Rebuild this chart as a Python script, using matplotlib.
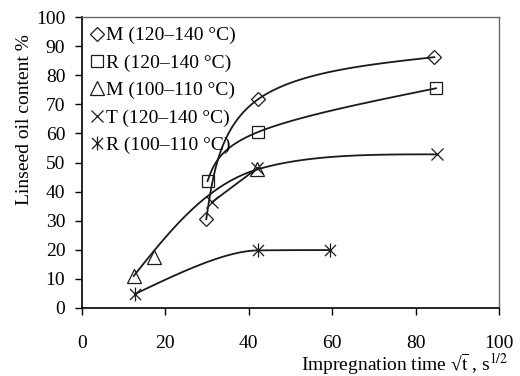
import numpy as np
import matplotlib
matplotlib.use('Agg')
import matplotlib.pyplot as plt
from matplotlib.lines import Line2D
from matplotlib.path import Path

plt.rcParams['font.family'] = ['Liberation Serif', 'DejaVu Serif']
plt.rcParams['mathtext.fontset'] = 'stix'

# values
m_hi_x = [29.8, 42.2, 84.5]
m_hi_y = [30.5, 71.7, 86.2]
r_hi_x = [30.1, 42.1, 84.9]
r_hi_y = [43.6, 60.4, 75.5]
m_lo_x = [12.4, 17.3, 42.0]
m_lo_y = [11.0, 17.4, 47.6]
t_hi_x = [31.1, 42.0, 85.1]
t_hi_y = [36.3, 48.0, 52.8]
r_lo_x = [12.7, 42.3, 59.5]
r_lo_y = [4.8, 19.8, 19.9]

labels = ['M (120–140 °C)', 'R (120–140 °C)', 'M (100–110 °C)',
          'T (120–140 °C)', 'R (100–110 °C)']

x_ticks = [0, 20, 40, 60, 80, 100]
y_ticks = [0, 10, 20, 30, 40, 50, 60, 70, 80, 90, 100]

asterisk = Path([(0, -1), (0, 1), (-0.8, -0.8), (0.8, 0.8), (-0.8, 0.8), (0.8, -0.8)],
                [Path.MOVETO, Path.LINETO, Path.MOVETO, Path.LINETO, Path.MOVETO, Path.LINETO])

fig = plt.figure(figsize=(5.2, 3.76), dpi=100)
ax = fig.add_axes([82/520, 1 - 308/376, 417/520, 291/376])
ax.set_xlim(0, 100)
ax.set_ylim(0, 100)


def smooth(xs, ys, n=60):
    # bezier smoothing in screen space, natural ends, no overshoot in y
    P = ax.transData.transform(np.column_stack([xs, ys]))
    k = len(P)
    if k == 2:
        return list(xs), list(ys)
    tang = np.zeros_like(P)
    for i in range(1, k - 1):
        tang[i] = (P[i + 1] - P[i - 1]) / 6
        dy0 = P[i, 1] - P[i - 1, 1]
        dy1 = P[i + 1, 1] - P[i, 1]
        if dy0 * dy1 <= 0:
            tang[i, 1] = 0
        else:
            lim = min(abs(dy0), abs(dy1))
            tang[i, 1] = np.sign(tang[i, 1]) * min(abs(tang[i, 1]), lim)
    t = np.linspace(0, 1, n)[:, None]
    segs = []
    for i in range(k - 1):
        p0, p3 = P[i], P[i + 1]
        c1 = p0 + tang[i] if i > 0 else None
        c2 = p3 - tang[i + 1] if i + 1 < k - 1 else None
        if c1 is None:
            c1 = (p0 + c2) / 2
        if c2 is None:
            c2 = (p3 + c1) / 2
        segs.append((1 - t)**3 * p0 + 3 * (1 - t)**2 * t * c1 + 3 * (1 - t) * t**2 * c2 + t**3 * p3)
    d = ax.transData.inverted().transform(np.vstack(segs))
    return d[:, 0], d[:, 1]


lc = '#1a1a1a'
lw = 1.3

ax.plot(*smooth(m_hi_x, m_hi_y), color=lc, lw=lw)
ax.plot(*smooth(r_hi_x, r_hi_y), color=lc, lw=lw)
ax.plot(*smooth([m_lo_x[0], m_lo_x[-1], t_hi_x[-1]], [m_lo_y[0], m_lo_y[-1], t_hi_y[-1]]), color=lc, lw=lw)
ax.plot(t_hi_x[:2], t_hi_y[:2], color=lc, lw=lw)
ax.plot(*smooth(r_lo_x, r_lo_y), color=lc, lw=lw)

mk = dict(ls='none', color='#1a1a1a', mfc='none', mew=0.9)
styles = [dict(marker='D', ms=7), dict(marker='s', ms=8), dict(marker='^', ms=10),
          dict(marker='x', ms=9), dict(marker=asterisk, ms=10)]
series = [(m_hi_x, m_hi_y), (r_hi_x, r_hi_y), (m_lo_x, m_lo_y), (t_hi_x, t_hi_y), (r_lo_x, r_lo_y)]
for (xs, ys), st in zip(series, styles):
    ax.plot(xs, ys, **mk, **st)

handles = [Line2D([], [], **mk, **st) for st in styles]
ax.legend(handles, labels, loc='upper left', bbox_to_anchor=(0, 1), frameon=False,
          handlelength=0.5, handletextpad=0.25, labelspacing=0.5, borderaxespad=0.3,
          borderpad=0.2, fontsize=14)

ax.set_xticks(x_ticks)
ax.set_yticks(y_ticks)
ax.tick_params(direction='out', length=5, width=1, labelsize=14)
ax.tick_params(axis='x', pad=14.5)
ax.tick_params(axis='y', pad=7)
for s in ['top', 'right']:
    ax.spines[s].set_color('#666666')
    ax.spines[s].set_linewidth(1)
for s in ['left', 'bottom']:
    ax.spines[s].set_linewidth(1.2)

ax.set_xlabel(r'Impregnation time √$\overline{\mathrm{t}}$ , s$^{1/2}$', fontsize=14,
              ha='right', va='baseline')
ax.xaxis.set_label_coords(1.0216, -0.2165)
ax.set_ylabel('Linseed oil content %', fontsize=14, va='center')
ax.yaxis.set_label_coords(-0.137, 0.646)

fig.savefig('out.png', dpi=100)
